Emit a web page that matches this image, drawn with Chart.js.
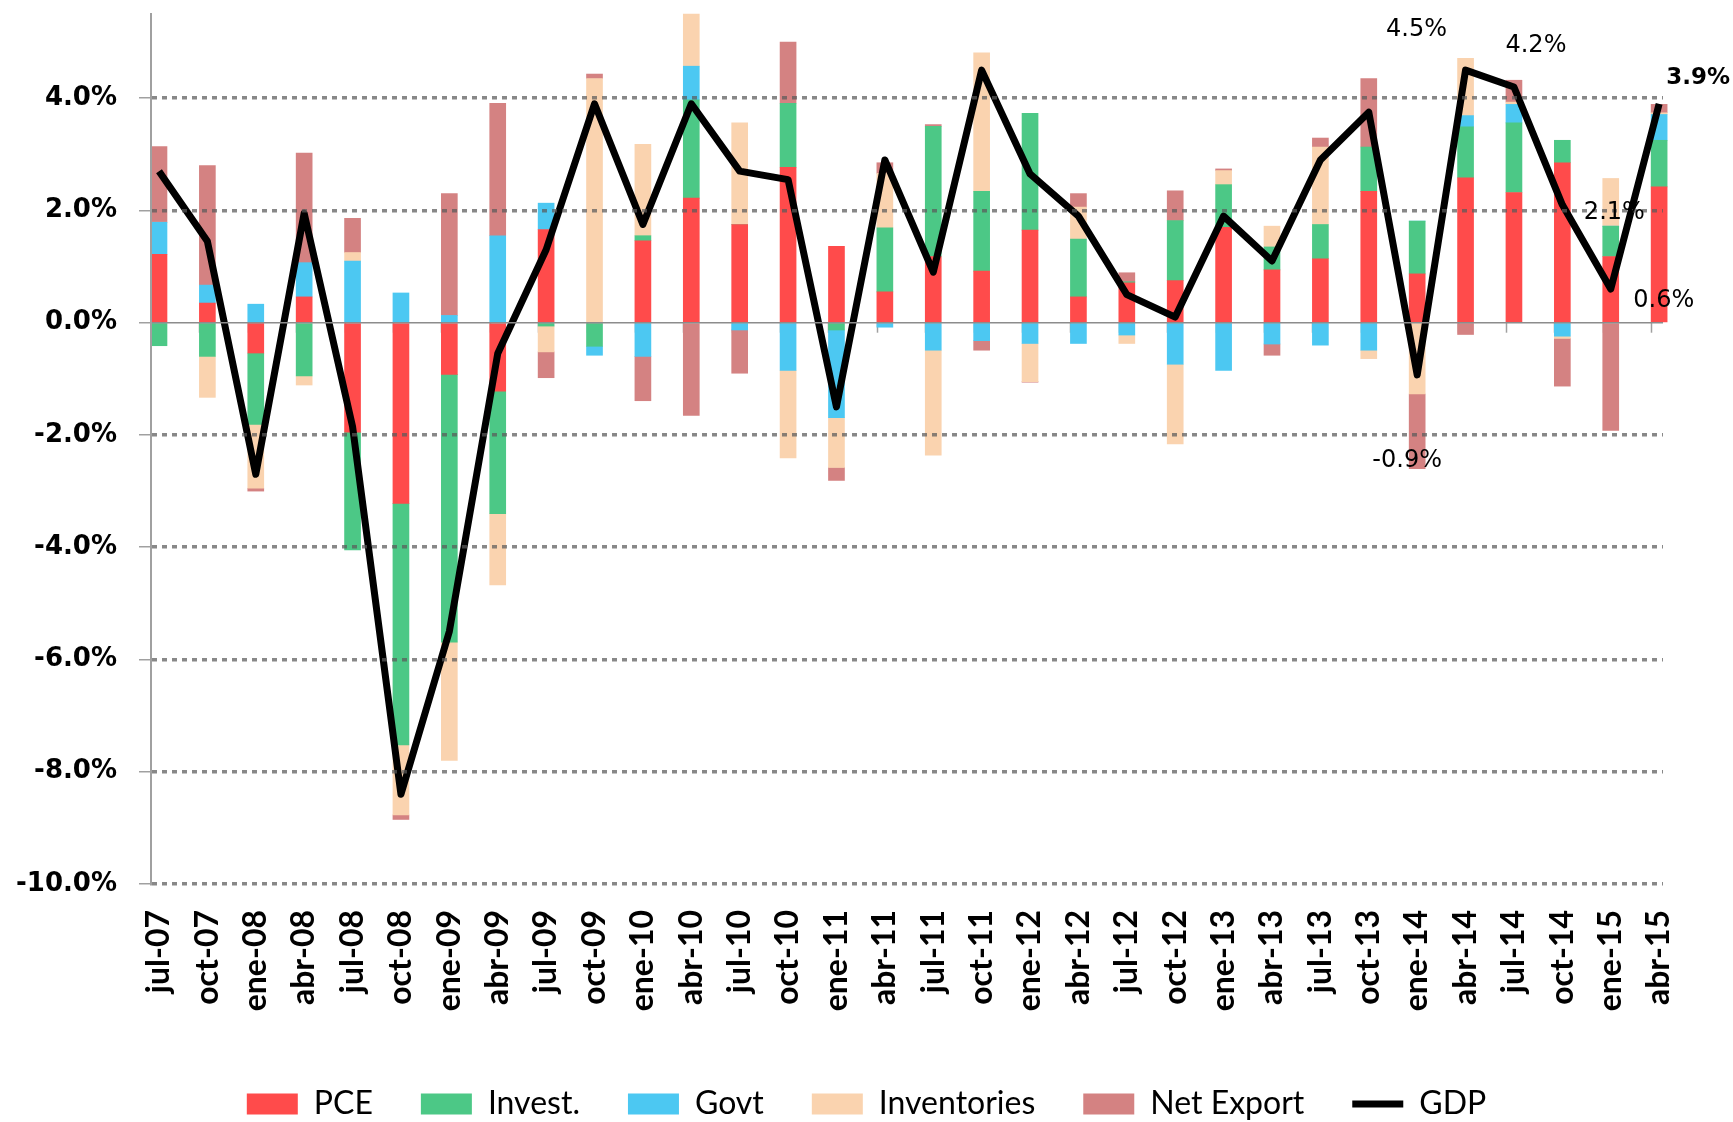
<!DOCTYPE html>
<html>
<head>
<meta charset="utf-8">
<script src="https://cdn.jsdelivr.net/npm/chart.js@4.4.1/dist/chart.umd.min.js"></script>
<style>
  html, body { margin: 0; padding: 0; background: #fff; }
</style>
</head>
<body>
<canvas id="gdpChart" width="1733" height="1122"></canvas>
<script>
// trimestres (eje x)
const quarters = ['jul-07', 'oct-07', 'ene-08', 'abr-08', 'jul-08', 'oct-08', 'ene-09', 'abr-09',
  'jul-09', 'oct-09', 'ene-10', 'abr-10', 'jul-10', 'oct-10', 'ene-11', 'abr-11',
  'jul-11', 'oct-11', 'ene-12', 'abr-12', 'jul-12', 'oct-12', 'ene-13', 'abr-13',
  'jul-13', 'oct-13', 'ene-14', 'abr-14', 'jul-14', 'oct-14', 'ene-15', 'abr-15'];

// contribuciones al crecimiento del PIB (puntos %)
const pce = [1.22, 0.35, -0.54, 0.46, -1.95, -3.22, -0.92, -1.22,
  1.66, 0, 1.46, 2.22, 1.75, 2.77, 1.36, 0.55,
  1.18, 0.92, 1.65, 0.46, 0.71, 0.75, 1.70, 0.94,
  1.14, 2.34, 0.87, 2.58, 2.32, 2.85, 1.18, 2.42];
const invest = [-0.41, -0.60, -1.27, -0.95, -2.10, -4.30, -4.77, -2.18,
  -0.06, -0.42, 0.09, 1.75, 0, 1.14, -0.13, 1.14,
  2.32, 1.42, 2.08, 1.03, 0.02, 1.07, 0.76, 0.41,
  0.61, 0.79, 0.94, 0.91, 1.24, 0.40, 0.54, 0.83];
const govt = [0.57, 0.32, 0.33, 0.61, 1.10, 0.53, 0.13, 1.55,
  0.47, -0.16, -0.60, 0.60, -0.13, -0.85, -1.56, -0.08,
  -0.49, -0.32, -0.37, -0.37, -0.22, -0.74, -0.85, -0.38,
  -0.40, -0.49, 0, 0.20, 0.33, -0.24, 0, 0.46];
const inventories = [0, -0.73, -1.14, -0.16, 0.15, -1.25, -2.11, -1.27,
  -0.46, 4.35, 1.63, 0.93, 1.81, -1.56, -0.89, 0.97,
  -1.87, 2.47, -0.68, 0.57, -0.15, -1.42, 0.25, 0.37,
  1.38, -0.15, -1.27, 1.02, 0.04, -0.04, 0.85, 0.03];
const netExport = [1.35, 2.13, -0.05, 1.95, 0.61, -0.08, 2.17, 2.36,
  -0.46, 0.08, -0.79, -1.65, -0.77, 1.09, -0.23, 0.19,
  0.03, -0.17, -0.01, 0.24, 0.16, 0.53, 0.03, -0.20,
  0.16, 1.22, -1.33, -0.21, 0.39, -0.85, -1.92, 0.15];
const gdp = [2.7, 1.45, -2.7, 1.95, -1.85, -8.4, -5.5, -0.55,
  1.3, 3.9, 1.75, 3.9, 2.7, 2.55, -1.5, 2.9,
  0.9, 4.5, 2.65, 1.9, 0.5, 0.1, 1.9, 1.1,
  2.9, 3.75, -0.93, 4.5, 4.2, 2.1, 0.6, 3.9];

// marcas del eje y
const yTicks = [-10, -8, -6, -4, -2, 0, 2, 4];

// etiquetas del PIB que aparecen en el grafico (indice + desplazamiento en px)
const gdpNotes = [
  { i: 26, dx: -10, dy: 86, bold: false },
  { i: 27, dx: -49, dy: -40, bold: false },
  { i: 28, dx: 22, dy: -41, bold: false },
  { i: 29, dx: 52, dy: 8, bold: false },
  { i: 30, dx: 53, dy: 12, bold: false },
  { i: 31, dx: 39, dy: -26, bold: true }
];

const BAR_W = 16;
const toXY = arr => arr.map((v, i) => ({ x: i, y: v }));

function barSet(label, values, color) {
  return {
    type: 'bar', label: label, data: toXY(values),
    backgroundColor: color, borderWidth: 0, barThickness: BAR_W,
    pointStyle: 'rect', stack: 'comp', clip: false, order: 1
  };
}

// pequeñas marcas bajo la linea del cero
const zeroTicks = {
  id: 'zeroTicks',
  beforeDatasetsDraw(chart) {
    const ctx = chart.ctx, xs = chart.scales.x, ys = chart.scales.y;
    const y0 = ys.getPixelForValue(0);
    ctx.save();
    ctx.strokeStyle = '#a0a0a0';
    ctx.lineWidth = 1.5;
    quarters.forEach((q, i) => {
      const x = Math.round(xs.getPixelForValue(i) - BAR_W / 2) + 0.5;
      ctx.beginPath();
      ctx.moveTo(x, y0);
      ctx.lineTo(x, y0 + 10);
      ctx.stroke();
    });
    ctx.restore();
  }
};

// etiquetas de valor del PIB
const gdpLabels = {
  id: 'gdpLabels',
  afterDraw(chart) {
    const ctx = chart.ctx, xs = chart.scales.x, ys = chart.scales.y;
    ctx.save();
    ctx.fillStyle = '#000';
    ctx.textAlign = 'center';
    ctx.textBaseline = 'middle';
    gdpNotes.forEach(n => {
      ctx.font = n.bold ? 'bold 23px "DejaVu Sans"' : '24px "DejaVu Sans"';
      const x = xs.getPixelForValue(n.i) + n.dx;
      const y = ys.getPixelForValue(gdp[n.i]) + n.dy;
      ctx.fillText(gdp[n.i].toFixed(1) + '%', x, y);
    });
    ctx.restore();
  }
};

const isZero = c => c.tick && c.tick.value === 0;

new Chart(document.getElementById('gdpChart'), {
  data: {
    datasets: [
      barSet('PCE', pce, '#FF4B4B'),
      barSet('Invest.', invest, '#4CC886'),
      barSet('Govt', govt, '#4CC8F2'),
      barSet('Inventories', inventories, '#FAD3AF'),
      barSet('Net Export', netExport, '#D48282'),
      {
        type: 'line', label: 'GDP', data: toXY(gdp),
        borderColor: '#000', backgroundColor: '#000', borderWidth: 7,
        pointRadius: 0, pointStyle: 'line', tension: 0, stack: 'gdp', order: 0,
        borderJoinStyle: 'round'
      }
    ]
  },
  options: {
    responsive: false,
    animation: false,
    layout: { padding: { left: 0, right: 0, top: 14, bottom: -8 } },
    scales: {
      x: {
        type: 'linear', min: -0.165, max: 31.08, stacked: true, offset: false,
        afterBuildTicks: axis => { axis.ticks = quarters.map((q, i) => ({ value: i })); },
        afterFit: axis => {
          axis.height = 156;
          axis.paddingLeft = 0;
          axis.paddingRight = 70;
        },
        grid: { display: false, drawTicks: false, offset: false },
        border: { display: false },
        ticks: {
          autoSkip: false, minRotation: 90, maxRotation: 90, padding: 26,
          color: '#000', font: { family: 'Lato', weight: 'bold', size: 32 },
          callback: v => quarters[v]
        }
      },
      y: {
        stacked: true, min: -10, max: 5.5,
        afterBuildTicks: axis => { axis.ticks = yTicks.map(v => ({ value: v })); },
        afterFit: axis => {
          axis.width = 151;
          axis.paddingTop = 0;
          axis.paddingBottom = 0;
        },
        ticks: {
          padding: 22, color: '#000',
          font: { family: 'DejaVu Sans', weight: 'bold', size: 26 },
          callback: v => v.toFixed(1) + '%'
        },
        grid: {
          z: 1,
          color: c => isZero(c) ? '#8c8c8c' : 'rgba(90,90,90,0.72)',
          lineWidth: c => isZero(c) ? 1.5 : 3.5,
          tickLength: 12, tickColor: '#a0a0a0', tickWidth: 1.5, tickBorderDash: []
        },
        border: {
          z: 2, color: '#a0a0a0', width: 2,
          dash: c => isZero(c) ? [] : [5, 5]
        }
      }
    },
    plugins: {
      legend: {
        position: 'bottom',
        labels: {
          usePointStyle: true, pointStyleWidth: 51, boxHeight: 21, padding: 48,
          color: '#000', font: { family: 'Lato', size: 32 },
          sort: (a, b) => a.datasetIndex - b.datasetIndex
        }
      },
      tooltip: { enabled: false }
    }
  },
  plugins: [zeroTicks, gdpLabels]
});
</script>
</body>
</html>
